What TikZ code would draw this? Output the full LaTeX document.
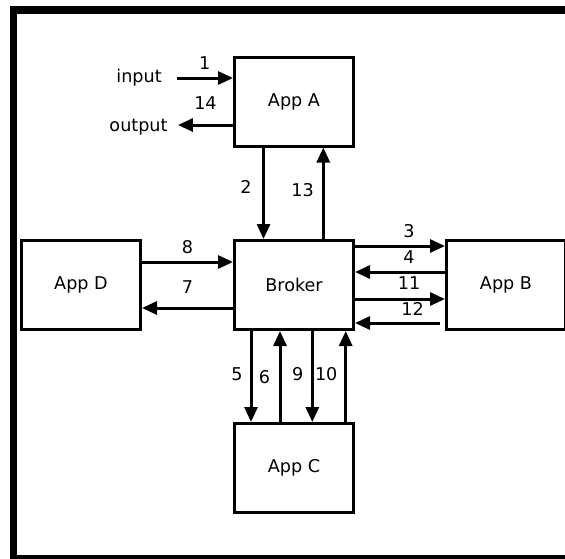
\documentclass[tikz,border=0pt]{standalone}
\usepackage{fontspec}
\setmainfont{DejaVu Sans}
\usetikzlibrary{arrows.meta, calc}

\begin{document}
\begin{tikzpicture}[
    x=0.5pt, y=-0.5pt,
    appbox/.style={draw, line width=1.5pt, minimum width=59.5pt, minimum height=44.5pt, font=\fontsize{8.8pt}{10pt}\selectfont},
    flow/.style={-{Triangle[length=7.5pt, width=6.5pt]}, line width=1.5pt},
    num/.style={inner sep=0pt, font=\fontsize{8.8pt}{10pt}\selectfont}
]
\useasboundingbox (0,0) rectangle (565,558);
\draw[line width=3.75pt] (13.5,10) rectangle (580,559);

\node[appbox] (appA) at (294,101.5) {App A};
\node[appbox] (broker) at (294,285) {Broker};
\node[appbox] (appD) at (81,285) {App D};
\node[appbox] (appB) at (506,285) {App B};
\node[appbox] (appC) at (294,468) {App C};
\node[num] (input) at (139,78) {input};
\node[num] (output) at (138.5,127) {output};

% outside world
\draw[flow] ($(input.east)+(14.5,0)$) -- node[num, above=3.6pt] {1} (appA.west |- input);
\draw[flow] ($(appA.west)+(0,23.5)$) coordinate (o14) -- node[num, above=6.8pt] {14} ($(output.east |- o14)+(10,0)$);

% app A <-> broker
\draw[flow] ($(appA.south)+(-30.5,0)$) -- node[num, pos=0.43, left=5.2pt] {2} ($(broker.north)+(-30.5,0)$);
\draw[flow] ($(broker.north)+(29.3,0)$) -- node[num, pos=0.54, left=4pt] {13} ($(appA.south)+(29.3,0)$);

% broker <-> app B
\draw[flow] ($(broker.east)+(0,-39)$) -- node[num, pos=0.6, above=3.4pt] {3} ($(appB.west)+(0,-39)$);
\draw[flow] ($(appB.west)+(0,-13)$) -- node[num, pos=0.4, above=3.3pt] {4} ($(broker.east)+(0,-13)$);
\draw[flow] ($(broker.east)+(0,14)$) -- node[num, pos=0.6, above=3.8pt] {11} ($(appB.west)+(0,14)$);
\draw[flow, shorten <=2.5pt] ($(appB.west)+(0,38)$) -- node[num, pos=0.36, above=3pt] {12} ($(broker.east)+(0,38)$);

% app D <-> broker
\draw[flow] ($(appD.east)+(0,-23)$) -- node[num, above=3.4pt] {8} ($(broker.west)+(0,-23)$);
\draw[flow] ($(broker.west)+(0,23)$) -- node[num, above=6.4pt] {7} ($(appD.east)+(0,23)$);

% broker <-> app C
\draw[flow] ($(broker.south)+(-43,0)$) -- node[num, pos=0.47, left=3.5pt] {5} ($(appC.north)+(-43,0)$);
\draw[flow] ($(appC.north)+(-14,0)$) -- node[num, pos=0.49, left=4.2pt] {6} ($(broker.south)+(-14,0)$);
\draw[flow] ($(broker.south)+(18.3,0)$) -- node[num, pos=0.47, left=3.7pt] {9} ($(appC.north)+(18.3,0)$);
\draw[flow] ($(appC.north)+(51.7,0)$) -- node[num, pos=0.53, left=3.4pt] {10} ($(broker.south)+(51.7,0)$);
\end{tikzpicture}
\end{document}
